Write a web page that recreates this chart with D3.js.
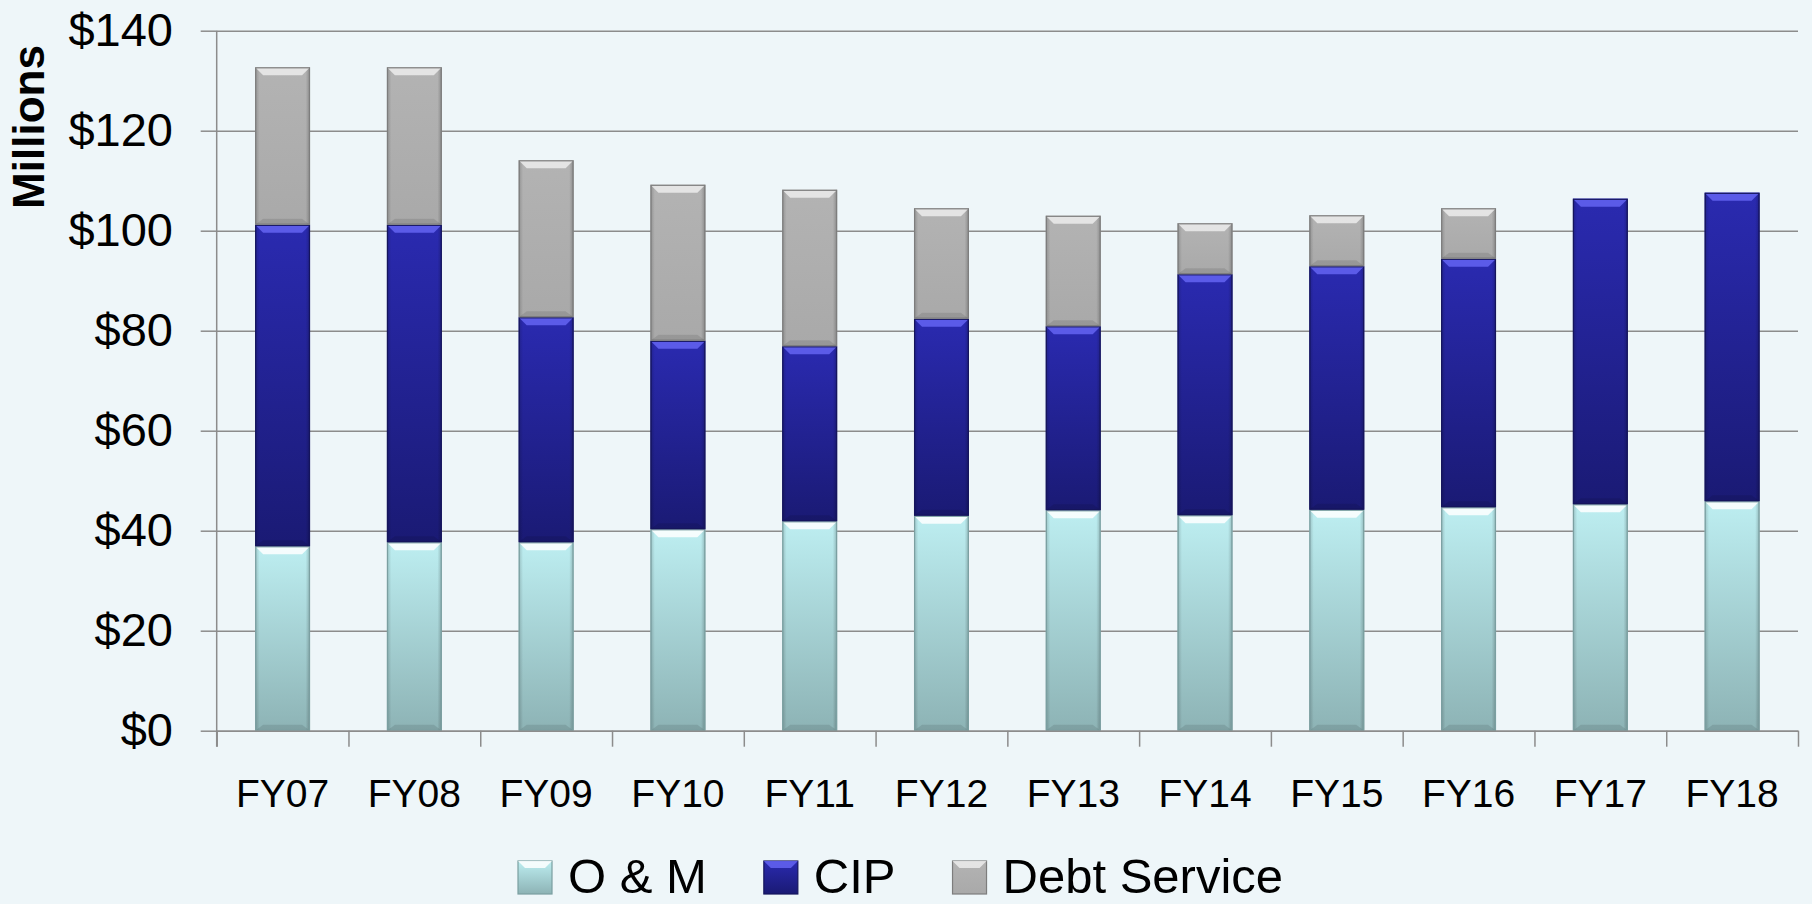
<!DOCTYPE html>
<html>
<head>
<meta charset="utf-8">
<script src="https://cdnjs.cloudflare.com/ajax/libs/d3/7.8.5/d3.min.js"></script>
<style>
  html, body { margin: 0; padding: 0; background: #eef6f9; }
  svg { display: block; font-family: "Liberation Sans", Arial, sans-serif; }
  .grid line { stroke: #8c8c8c; stroke-width: 1.5; }
  .grid path { display: none; }
  .axis path, .axis line { stroke: #8c8c8c; stroke-width: 1.5; }
</style>
</head>
<body>
<svg id="chart" width="1812" height="904"></svg>
<script>
const years = ["FY07", "FY08", "FY09", "FY10", "FY11", "FY12", "FY13", "FY14", "FY15", "FY16", "FY17", "FY18"];
const omValues = [36.9, 37.7, 37.7, 40.3, 41.9, 43.0, 44.1, 43.1, 44.2, 44.7, 45.3, 45.9];
const cipValues = [64.3, 63.5, 45.0, 37.7, 35.0, 39.4, 36.8, 48.2, 48.7, 49.7, 61.1, 61.7];
const debtValues = [31.5, 31.5, 31.4, 31.2, 31.3, 22.1, 22.1, 10.2, 10.2, 10.1, 0, 0];
const seriesNames = ["O & M", "CIP", "Debt Service"];
const yTicks = [0, 20, 40, 60, 80, 100, 120, 140];

const svg = d3.select("#chart");
const width = +svg.attr("width");
const height = +svg.attr("height");
const margin = { top: 30.7, right: 14, bottom: 173.3, left: 216.7 };
const innerWidth = width - margin.left - margin.right;
const innerHeight = height - margin.top - margin.bottom;

const keys = ["om", "cip", "debt"];
const table = years.map((fy, i) => ({ fy, om: omValues[i], cip: cipValues[i], debt: debtValues[i] }));
const stacked = d3.stack().keys(keys)(table);

// colours per series: gradient top/bottom, highlight, edge
const look = {
  om:   { top: "#bdeef1", bottom: "#8db3b5", hi: "#ffffff", edge: "#7b9fa1" },
  cip:  { top: "#2a2ab0", bottom: "#1a1a74", hi: "#6464f2", edge: "#15155c" },
  debt: { top: "#b3b3b3", bottom: "#a9a9a9", hi: "#ececec", edge: "#7d7d7d" }
};

const defs = svg.append("defs");
keys.forEach(k => {
  const g = defs.append("linearGradient")
    .attr("id", "grad-" + k)
    .attr("x1", 0).attr("y1", 0).attr("x2", 0).attr("y2", 1);
  g.append("stop").attr("offset", "0%").attr("stop-color", look[k].top);
  g.append("stop").attr("offset", "100%").attr("stop-color", look[k].bottom);
  const s = defs.append("linearGradient")
    .attr("id", "side-" + k)
    .attr("x1", 0).attr("y1", 0).attr("x2", 1).attr("y2", 0);
  s.append("stop").attr("offset", "0%").attr("stop-color", "#000").attr("stop-opacity", 0.18);
  s.append("stop").attr("offset", "8%").attr("stop-color", "#000").attr("stop-opacity", 0);
  s.append("stop").attr("offset", "92%").attr("stop-color", "#000").attr("stop-opacity", 0);
  s.append("stop").attr("offset", "100%").attr("stop-color", "#000").attr("stop-opacity", 0.22);
});

const g = svg.append("g")
  .attr("transform", `translate(${margin.left},${margin.top})`);

const x = d3.scaleBand()
  .domain(years)
  .range([0, innerWidth])
  .paddingInner(0.583)
  .paddingOuter(0.2915);

const xEdges = d3.scaleLinear()
  .domain([0, years.length])
  .range([0, innerWidth]);

const y = d3.scaleLinear()
  .domain([0, 140])
  .range([innerHeight, 0]);

// gridlines
g.append("g")
  .attr("class", "grid")
  .call(d3.axisLeft(y).tickValues(yTicks).tickSize(-innerWidth).tickFormat(""))
  .call(a => a.selectAll("text").remove());

// y axis with outward ticks and labels
g.append("g")
  .attr("class", "axis")
  .call(d3.axisLeft(y).tickValues(yTicks).tickSize(16).tickSizeOuter(0).tickPadding(27.7)
    .tickFormat(d => "$" + d))
  .call(a => a.select(".domain").attr("d", `M0,0V${innerHeight + 16}`))
  .selectAll("text")
  .attr("font-size", 47)
  .attr("fill", "#000");

// bars
const bw = x.bandwidth();
const layers = g.append("g").selectAll("g")
  .data(stacked)
  .enter()
  .append("g");

const segs = layers.selectAll("g")
  .data(d => d.map(v => ({ key: d.key, v })).filter(s => s.v[1] - s.v[0] > 0))
  .enter()
  .append("g")
  .attr("transform", s => `translate(${x(s.v.data.fy)},${y(s.v[1])})`);

segs.append("rect")
  .attr("width", bw)
  .attr("height", s => y(s.v[0]) - y(s.v[1]))
  .attr("fill", s => `url(#grad-${s.key})`);

segs.append("rect")
  .attr("width", bw)
  .attr("height", s => y(s.v[0]) - y(s.v[1]))
  .attr("fill", s => `url(#side-${s.key})`);

// top bevel highlight
segs.append("path")
  .attr("d", `M0,0H${bw}L${bw - 8},8H8Z`)
  .attr("fill", s => look[s.key].hi)
  .attr("opacity", 0.85);

// bottom bevel shadow
segs.append("path")
  .attr("d", s => {
    const h = y(s.v[0]) - y(s.v[1]);
    return `M0,${h}H${bw}L${bw - 8},${h - 6}H8Z`;
  })
  .attr("fill", "#000")
  .attr("opacity", 0.1);

segs.append("rect")
  .attr("x", 0.6)
  .attr("y", 0.6)
  .attr("width", bw - 1.2)
  .attr("height", s => Math.max(0, y(s.v[0]) - y(s.v[1]) - 1.2))
  .attr("fill", "none")
  .attr("stroke", s => look[s.key].edge)
  .attr("stroke-width", 1.2);

// x axis: boundary ticks
g.append("g")
  .attr("class", "axis")
  .attr("transform", `translate(0,${innerHeight})`)
  .call(d3.axisBottom(xEdges).ticks(years.length).tickSize(16).tickSizeOuter(0).tickFormat(""))
  .call(a => a.selectAll("text").remove());

// x axis labels
g.append("g")
  .attr("transform", `translate(0,${innerHeight})`)
  .call(d3.axisBottom(x).tickSize(0).tickPadding(48.6))
  .call(a => a.select(".domain").remove())
  .selectAll("text")
  .attr("font-size", 39)
  .attr("fill", "#000");

// y axis title
svg.append("text")
  .attr("transform", "rotate(-90)")
  .attr("x", -127)
  .attr("y", 44)
  .attr("text-anchor", "middle")
  .attr("font-size", 44)
  .attr("font-weight", "bold")
  .attr("fill", "#000")
  .text("Millions");

// legend
const legend = svg.append("g").attr("transform", "translate(518,0)");
let lx = 0;
seriesNames.forEach((name, i) => {
  const k = keys[i];
  const item = legend.append("g").attr("transform", `translate(${lx},0)`);
  item.append("rect")
    .attr("x", 0).attr("y", 861)
    .attr("width", 34).attr("height", 33)
    .attr("fill", `url(#grad-${k})`)
    .attr("stroke", look[k].edge)
    .attr("stroke-width", 1.2);
  item.append("path")
    .attr("d", "M0,861H34L27,868H7Z")
    .attr("fill", look[k].hi)
    .attr("opacity", 0.85);
  const t = item.append("text")
    .attr("x", 50)
    .attr("y", 893)
    .attr("font-size", 49)
    .attr("fill", "#000")
    .text(name);
  lx += 50 + t.node().getComputedTextLength() + 57;
});
</script>
</body>
</html>
